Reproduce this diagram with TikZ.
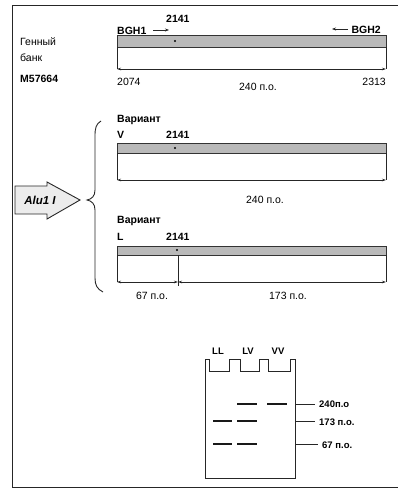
\documentclass[tikz,border=0pt]{standalone}
\usepackage{fontspec}
\setmainfont{Liberation Sans}
\usetikzlibrary{arrows.meta}
\begin{document}
\begin{tikzpicture}[x=1pt,y=-1pt,
  lab/.style={inner sep=0pt,font=\fontsize{10.5}{12}\selectfont},
  blab/.style={inner sep=0pt,font=\fontsize{10.5}{12}\selectfont\bfseries},
  glab/.style={inner sep=0pt,font=\fontsize{9.5}{11}\selectfont\bfseries},
  line/.style={line width=0.9pt,black!85},
  dim/.style={line width=0.8pt,black!85,{Stealth[length=4pt,width=2.5pt]}-{Stealth[length=4pt,width=2.5pt]}},
  prim/.style={line width=0.9pt,black!85,-{Stealth[length=4pt,width=3pt]}},
  greybar/.style={fill=gray!55,draw=black!80,line width=0.8pt},
  band/.style={line width=2.6pt,black!90},
  ticker/.style={line width=0.8pt,black!85}]
\useasboundingbox (0,0) rectangle (398,489);
% frame
\draw[line] (398,5) -- (12,5) -- (12,487) -- (398,487);

% ---------- reference sequence ----------
\node[lab,anchor=west] (gen) at (20,42) {Генный};
\node[lab,anchor=west] (bank) at (20,58) {банк};
\node[blab,anchor=west] (acc) at (20,79) {M57664};
\node[blab,anchor=west] (bgh1) at (117,31) {BGH1};
\node[blab,anchor=west] (p0) at (166,19) {2141};
\node[blab,anchor=east] (bgh2) at (381,30) {BGH2};
\coordinate (a1s) at (153,30); \coordinate (a1e) at (169,30);
\coordinate (a2s) at (348,29); \coordinate (a2e) at (332,29);
\draw[prim] (a1s) -- (a1e);
\draw[prim] (a2s) -- (a2e);
\draw[greybar] (117,35) rectangle (386,47);
\fill (175,41) circle (1.1pt);
\coordinate (r1l) at (117,69); \coordinate (r1r) at (386,69);
\draw[line] (117,47) -- (r1l);
\draw[line] (386,47) -- (r1r);
\draw[dim] (r1l) -- (r1r);
\node[lab,anchor=west] (s0) at (117,82) {2074};
\node[lab] (len0) at (258,87) {240 п.о.};
\node[lab,anchor=east] (e0) at (386,82) {2313};

% ---------- brace and enzyme ----------
\draw[line] (101,121) .. controls (96,124) and (95,128) .. (95,136)
  -- (95,190) .. controls (95,196) and (92,199) .. (87,200)
  .. controls (92,201) and (95,204) .. (95,210)
  -- (95,278) .. controls (95,285) and (97,289) .. (103,292);
\draw[line,fill=gray!15] (15,186) -- (47,186) -- (47,182) -- (80,200)
  -- (47,219) -- (47,214) -- (15,214) -- cycle;
\node[inner sep=0pt,font=\fontsize{11.5}{13}\selectfont\bfseries\itshape] (alu) at (40,200) {Alu1 I};

% ---------- variant V ----------
\node[blab,anchor=west] (vv) at (117,120) {Вариант};
\node[blab,anchor=west] (vl) at (117,135) {V};
\node[blab,anchor=west] (vp) at (166,135) {2141};
\draw[greybar] (117,143) rectangle (386,153);
\fill (175,148) circle (1.1pt);
\coordinate (r2l) at (117,180); \coordinate (r2r) at (386,180);
\draw[line] (117,153) -- (r2l);
\draw[line] (386,153) -- (r2r);
\draw[dim] (r2l) -- (r2r);
\node[lab] (len1) at (265,200) {240 п.о.};

% ---------- variant L ----------
\node[blab,anchor=west] (lv) at (117,221) {Вариант};
\node[blab,anchor=west] (ll) at (117,237) {L};
\node[blab,anchor=west] (lp) at (166,237) {2141};
\draw[greybar] (117,246) rectangle (386,255);
\fill (177,250) circle (1.1pt);
\coordinate (r3l) at (117,282); \coordinate (r3m) at (178,282); \coordinate (r3r) at (386,282);
\draw[line] (117,255) -- (r3l);
\draw[line] (386,255) -- (r3r);
\draw[line] (178,255) -- (178,286);
\draw[dim] (r3l) -- (r3m);
\draw[dim] (r3m) -- (r3r);
\node[lab] (len2) at (152,296) {67 п.о.};
\node[lab] (len3) at (288,296) {173 п.о.};

% ---------- gel ----------
\draw[line] (205,478) -- (205,359) -- (209,359) -- (209,371) -- (229,371) -- (229,359)
  -- (240,359) -- (240,371) -- (259,371) -- (259,359) -- (268,359) -- (268,371)
  -- (290,371) -- (290,359) -- (295,359) -- (295,478) -- cycle;
\node[glab] (lanell) at (218,351) {LL};
\node[glab] (lanelv) at (248,351) {LV};
\node[glab] (lanevv) at (278,351) {VV};
\draw[band] (237,404) -- (257,404);
\draw[band] (267,404) -- (287,404);
\draw[band] (213,421) -- (232,421);
\draw[band] (237,421) -- (257,421);
\draw[band] (213,444) -- (232,444);
\draw[band] (237,444) -- (257,444);
\coordinate (m1) at (295,404); \coordinate (m2) at (295,421); \coordinate (m3) at (295,444);
\coordinate (n1) at (315,404); \coordinate (n2) at (315,421); \coordinate (n3) at (318,444);
\node[glab,anchor=west] (g240) at (319,404) {240п.о};
\node[glab,anchor=west] (g173) at (319,422) {173 п.о.};
\node[glab,anchor=west] (g67) at (322,445) {67 п.о.};
\draw[ticker] (m1) -- (n1);
\draw[ticker] (m2) -- (n2);
\draw[ticker] (m3) -- (n3);
\end{tikzpicture}
\end{document}
